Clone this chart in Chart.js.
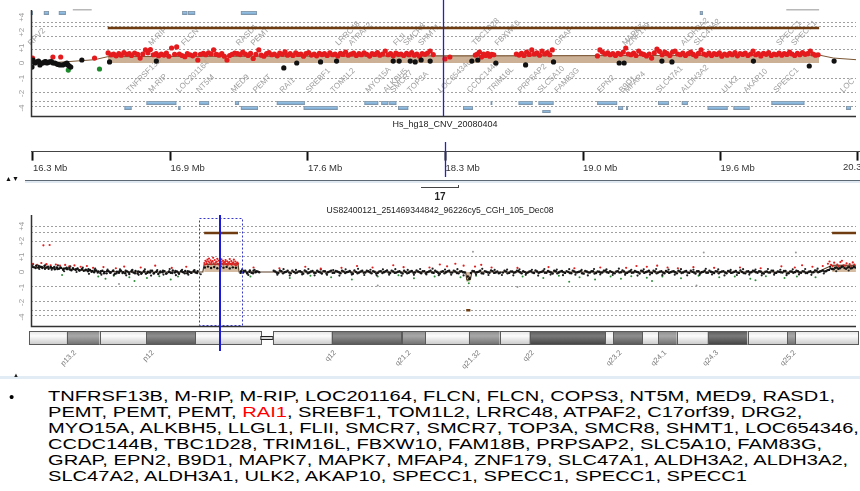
<!DOCTYPE html>
<html><head><meta charset="utf-8">
<script src="https://cdn.jsdelivr.net/npm/chart.js@4.4.1/dist/chart.umd.min.js"></script>
<style>
html,body{margin:0;padding:0;background:#fff;width:860px;height:491px;overflow:hidden;position:relative;font-family:"Liberation Sans",Arial,sans-serif;}
canvas{position:absolute;left:0;}
.t{position:absolute;white-space:nowrap;color:#222;}
</style></head><body>
<canvas id="cTop" width="860" height="135" style="top:0"></canvas>
<canvas id="cRuler" width="900" height="90" style="top:100px"></canvas>
<canvas id="cBot" width="860" height="175" style="top:205px"></canvas>
<div class="t" id="title1" style="left:445px;top:119px;font-size:9px;transform:translateX(-50%);">Hs_hg18_CNV_20080404</div>
<div id="sep1" style="position:absolute;left:25px;top:180px;width:835px;height:1px;background:#5d6875;"></div>
<div id="sep1b" style="position:absolute;left:25px;top:181px;width:835px;height:2px;background:#dfe8f1;"></div>
<div class="t" style="left:5px;top:175px;font-size:7px;color:#111;">▲▼</div>
<div id="brk" style="position:absolute;left:421px;top:185px;width:37px;height:2px;border-bottom:1px solid #444;border-right:1px solid #444;"></div>
<div class="t" style="left:440px;top:191px;font-size:10px;font-weight:bold;transform:translateX(-50%);">17</div>
<div class="t" id="title2" style="left:440px;top:205px;font-size:8.6px;transform:translateX(-50%);">US82400121_251469344842_96226cy5_CGH_105_Dec08</div>
<div id="sep2" style="position:absolute;left:0;top:376px;width:860px;height:3px;background:#e2ecf5;"></div>
<div class="t" style="left:13px;top:372px;font-size:6px;color:#222;">▲</div>
<div class="t" style="left:9px;top:388px;font-size:15px;color:#000;">•</div>
<div class="t" id="genes" style="left:48px;top:388px;font-size:15px;line-height:16px;color:#000;transform-origin:0 0;"></div>
<script>
// ---------------- DATA ----------------
const yTickPos = [3.05, 2.05, 1.0, 0, -1.03, -2.03, -3.0];
const yTickLabels = ['+4', '+2', '+1', '0', '-1', '-2', '-4'];
const topGridLevels = [2.73, 2.47, 1.8, 0.93, -1.0, -1.93, -2.53, -2.87];
const botGridLevels = [3.07, 2.67, 2.07, 1.07, -0.93, -1.93, -2.53, -2.87];

const rulerTicks = [16.3, 16.967, 17.633, 18.3, 18.967, 19.633, 20.3];
const rulerLabels = ['16.3 Mb', '16.9 Mb', '17.6 Mb', '18.3 Mb', '19.0 Mb', '19.6 Mb', '20.3 Mb'];
const cursorMb = 18.3;
const chrHighlight = [16.25, 20.38];

// top panel (zoomed region), x in Mb, y log ratio position
const topRed = [[16.298,.33],[16.397,.4],[16.435,.4],[16.6,.33],
[16.666,.67],[16.68,.55],[16.693,.6],[16.705,.48],[16.718,.63],[16.73,.52],[16.743,.7],[16.756,.58],[16.769,.62],[16.78,.5],[16.795,.66],[16.81,.57],[16.822,.33],[16.835,.6],[16.848,.87],[16.86,.68],[16.872,.9],[16.886,.55],[16.9,.62],[16.912,.49],[16.925,.6],[16.938,.53],[16.95,.66],[16.962,.45],[16.975,1.0],[16.99,.58],[17.0,1.07],[17.013,.6],[17.026,.5],[17.04,.42],[17.052,.62],[17.065,.55],[17.078,.48],[17.09,.6],[17.103,.2],[17.116,.58],[17.13,.64],[17.142,.55],[17.155,.68],[17.168,.6],[17.18,.87],[17.193,.57],[17.206,.52],[17.22,.63],[17.232,.45],[17.245,.2],[17.258,.5],[17.27,.58],[17.283,.66],[17.296,.62],[17.31,.56],[17.322,.73],[17.335,.6],[17.348,.5],[17.36,.64],[17.373,.3],[17.386,.57],[17.4,.87],[17.412,.52],[17.425,.45],
[17.438,.62],[17.45,.7],[17.463,.55],[17.476,.6],[17.49,.48],[17.502,.66],[17.515,.58],[17.528,.75],[17.54,.52],[17.553,.63],[17.566,.5],[17.58,.68],[17.592,.57],[17.605,.6],[17.618,.45],[17.63,.62],[17.643,.7],[17.656,.53],[17.67,.6],[17.682,.48],[17.695,.65],[17.708,.56],[17.72,.62],[17.733,.5],[17.746,.67],[17.76,.55],[17.772,.6],[17.785,.47],[17.798,.64],[17.81,.57],[17.823,.73],[17.836,.52],[17.85,.6],[17.862,.66],[17.875,.5],[17.888,.62],[17.9,.55],[17.913,.68],[17.926,.58],[17.94,.46],[17.952,.63],[17.965,.57],[17.978,.7],[17.99,.52],[18.003,.6],[18.016,.8],[18.03,.55],[18.042,.62],[18.055,.48],[18.068,.66],[18.08,.58],[18.093,.6],[18.106,.5],[18.12,.64],[18.132,.55],[18.145,.7],[18.158,.52],[18.17,.6],[18.183,.45],[18.196,.62],[18.21,.58],[18.222,.66],[18.235,.8],[18.25,.56],
[18.307,.27],[18.331,.4],
[18.455,.53],[18.465,.6],[18.475,.73],[18.485,.4],[18.495,.6],[18.505,.5],[18.515,.62],[18.525,.45],[18.535,.58],[18.545,.55],
[18.655,.6],[18.668,.53],[18.68,.64],[18.692,.5],[18.705,.73],[18.718,.57],[18.73,.87],[18.742,.6],[18.755,.67],[18.768,.52],[18.78,.8],[18.793,.6],[18.806,.7],[18.818,.55],[18.83,.87],
[19.05,.47],[19.062,.87],[19.074,.73],[19.087,.6],[19.1,.67],[19.112,.55],[19.125,.62],[19.138,.5],[19.15,.64],[19.163,.58],[19.176,.73],[19.188,1.0],[19.2,.6],[19.213,.55],[19.226,.66],[19.238,.5],[19.251,.8],[19.264,.62],[19.276,.57],[19.289,.47],[19.302,.6],[19.314,.33],[19.327,.67],[19.34,.93],[19.352,.78],[19.365,.55],[19.378,.73],[19.39,.62],[19.403,.5],[19.416,.73],[19.428,.8],[19.441,.6],[19.454,.55],[19.466,.66],[19.479,.5],[19.492,.62],[19.504,.72],[19.517,.57],[19.53,.46],[19.542,.64],[19.555,.88],[19.568,.6],[19.58,.53],[19.593,.66],[19.606,.5],[19.618,.62],[19.631,.57],[19.644,.68],[19.656,.45],[19.669,.6],[19.682,.52],[19.694,.64],[19.707,.55],[19.72,.7],[19.732,.48],[19.745,.62],[19.758,.57],[19.77,.66],[19.783,.5],[19.796,.6],[19.808,.8],[19.821,.55],[19.834,.62],[19.846,.47],[19.859,.64],[19.872,.58],[19.884,.7],[19.897,.5],[19.91,.6],[19.922,.55],[19.935,.66],[19.948,.52],[19.96,.62],[19.973,.57],[19.986,.73],[19.998,.6],[20.011,.5],[20.024,.64],[20.036,.55],[20.049,.7],[20.062,.58],[20.074,.62],[20.087,.8],[20.1,.6],[20.112,.52],[20.125,.55]];
const topBlack = [[16.295,-.27],[16.296,.07],[16.3,.2],[16.31,.0],[16.319,.07],[16.327,.13],[16.334,-.13],[16.341,.0],[16.348,0],[16.356,.07],[16.362,.1],[16.368,0],[16.375,.05],[16.382,.07],[16.39,.1],[16.398,.0],[16.407,0],[16.417,-.07],[16.424,-.1],[16.431,-.13],[16.445,-.13],[16.455,-.07],[16.465,0],[16.47,-.13],[16.477,-.2],[16.484,-.27],[16.538,.2],[16.673,.07],[16.901,.13],[17.522,-.33],[17.585,0],[17.701,.07],[17.779,.13],[18.055,.13],[18.084,.13],[18.138,.13],[18.162,.07],[18.191,.2],[18.235,.13],[18.438,.13],[18.467,.2],[18.555,0],[18.7,-.13],[18.836,.07],[19.156,0],[19.18,0],[19.364,.13],[19.413,.07],[19.81,.13],[20.082,-.2],[20.203,.13]];
const topGreen = [[16.472,-.47],[16.624,-.4]];
const topSegment = [[16.664,.42],[17.2,.45],[17.9,.47],[18.6,.48],[19.3,.5],[20.13,.53]];
const topTrend = [[16.35,.0],[16.45,.07],[16.6,.22],[16.664,.42],[17.2,.45],[17.9,.47],[18.6,.48],[19.3,.5],[20.13,.53],[20.2,.33],[20.31,.22]];
const topBar = [[16.664,2.33],[20.13,2.33]];

// gene tracks in top panel: [startMb, endMb, row]
const geneBoxes = [[16.29,16.3,0],[16.353,16.378,0],[16.426,16.46,0],[17.027,17.052,0],[17.056,17.09,0],[17.313,17.391,0],[19.549,19.564,0],
[16.853,16.998,1],[17.11,17.158,1],[17.284,17.304,1],[17.488,17.624,1],[17.915,17.982,1],[17.997,18.031,1],[18.036,18.07,1],[18.53,18.535,1],[18.666,18.734,1],[18.763,18.836,1],[19.049,19.146,1],[19.345,19.398,1],[19.461,19.49,1],[19.898,20.058,1],
[16.746,16.78,2],[17.008,17.018,2],[17.313,17.396,2],[17.619,17.784,2],[18.079,18.128,2],[18.395,18.443,2],[19.151,19.175,2],[19.19,19.199,2],[19.587,19.684,2],[19.713,19.791,2],[20.261,20.285,2],
[18.782,18.821,3]];
const geneLines = [[16.494,16.586],[19.97,20.13]];
const genesAbove = [['RPV2',16.29],['M-RIP',16.877],['FLCN',17.037],['RASD1',17.304],['PEMT',17.376],['LRRC48',17.788],['ATPAF2',17.852],['FLII',18.07],['SMCR8',18.118],['SHMT1',18.191],['TBC1D28',18.453],['FBXW10',18.564],['GRAP',18.855],['MAPK7',19.185],['ZNF179',19.209],['ALDH3A2',19.471],['SLC47A2',19.534],['SPECC1',19.936],['SPECC1',20.009]];
const genesBelow = [['TNFRSF13B',16.77],['M-RIP',16.877],['LOC201164',17.013],['NT5M',17.11],['MED9',17.279],['PEMT',17.386],['RAI1',17.517],['SREBF1',17.643],['TOM1L2',17.764],['MYO15A',17.934],['ALKBH5',18.021],['SMCR7',18.055],['TOP3A',18.138],['LOC654346',18.288],['CCDC144B',18.429],['TRIM16L',18.53],['PRPSAP2',18.676],['SLC5A10',18.773],['FAM83G',18.855],['EPN2',19.064],['B9D1',19.17],['MFAP4',19.195],['SLC47A1',19.35],['ALDH3A2',19.471],['ULK2',19.67],['AKAP10',19.776],['SPECC1',19.922],['LOC',20.247]];

// bottom panel (whole chromosome 17)
const botBlack = [[0.1,.38],[0.3,.31],[0.5,.42],[0.7,.29],[0.9,.35],[1.1,.27],[1.3,.4],[1.5,.3],[1.7,.22],[1.9,.33],[2.1,.26],[2.3,.18],[2.5,.3],[2.7,.21],[2.9,.27],[3.1,.15],[3.3,.24],[3.5,.19],[3.7,.28],[3.9,.12],[4.1,.2],[4.3,.14],[4.5,.23],[4.7,.1],[4.9,.17],[5.1,.08],[5.3,.16],[5.5,.05],[5.7,.13],[5.9,.07],[6.1,-.02],[6.3,.1],[6.5,.04],[6.7,-.06],[6.9,.08],[7.1,.01],[7.3,-.09],[7.5,.05],[7.7,-.03],[7.9,.06],[8.1,-.12],[8.3,.02],[8.5,-.05],[8.7,.09],[8.9,-.01],[9.1,-.08],[9.3,.04],[9.5,-.14],[9.7,.03],[9.9,-.04],[10.1,.07],[10.3,-.1],[10.5,.0],[10.7,-.06],[10.9,.05],[11.1,-.11],[11.3,.02],[11.5,-.03],[11.7,.08],[11.9,-.07],[12.1,.01],[12.3,-.13],[12.5,.04],[12.7,-.02],[12.9,.06],[13.1,-.09],[13.3,.0],[13.5,-.05],[13.7,.1],[13.9,-.04],[14.1,.03],[14.3,-.12],[14.5,.05],[14.7,-.01],[14.9,.07],[15.1,-.08],[15.3,.02],[15.5,-.06],[15.7,.04],[15.9,-.03],[16.1,.06],
[16.8,.3],[17.1,.36],[17.4,.27],[17.7,.33],[18.0,.25],[18.3,.38],[18.6,.29],[18.9,.34],[19.2,.24],[19.5,.31],[19.8,.28],
[20.3,.05],[20.5,-.04],[20.7,.08],[20.9,-.1],[21.1,.02],[21.3,-.05],[21.5,.09],[21.7,-.02],[21.9,.04],
[23.6,.03],[23.9,-.07],[24.2,.05],[24.5,-.02],[24.8,.08],[25.1,-.09],[25.4,.01],[25.7,-.04],[26.0,.06],[26.3,-.11],[26.6,.03],[26.9,-.03],[27.2,.07],[27.5,-.06],[27.8,.02],[28.1,-.1],[28.4,.05],[28.7,-.01],[29.0,.09],[29.3,-.05],[29.6,.03],[29.9,-.08],[30.2,.04],[30.5,-.02],[30.8,.07],[31.1,-.12],[31.4,.01],[31.7,-.04],[32.0,.08],[32.3,-.03],[32.6,.05],[32.9,-.09],[33.2,.02],[33.5,-.06],[33.8,.06],[34.1,-.02],[34.4,.1],[34.7,-.07],[35.0,.03],[35.3,-.04],[35.6,.05],[35.9,-.1],[36.2,.0],[36.5,-.05],[36.8,.07],[37.1,-.03],[37.4,.04],[37.7,-.08],[38.0,.06],[38.3,-.01],[38.6,.09],[38.9,-.06],[39.2,.02],[39.5,-.11],[39.8,.05],[40.1,-.02],[40.4,.08],[40.7,-.04],[41.0,.03],[41.3,-.09],[41.6,.06],[41.9,-.03],[42.2,-.3],[42.35,-.45],[42.5,-.07],[42.8,.05],[43.1,-.02],[43.4,.08],[43.7,-.1],[44.0,.02],[44.3,-.05],[44.6,.06],[44.9,-.03],[45.2,-.08],[45.6,-.04],[45.9,.04],[46.2,-.06],[46.5,.03],[46.8,-.02],[47.1,.07],[47.4,-.09],[47.7,.01],[48.0,-.04],[48.3,.06],[48.6,-.07],[48.9,.03],[49.2,-.01],[49.5,.08],[49.8,-.05],[50.1,.02],[50.4,-.1],[50.7,.05],[51.0,-.03],[51.3,.07],[51.6,-.06],[51.9,.01],[52.2,-.08],[52.5,.04],[52.8,-.02],[53.1,.06],[53.4,-.11],[53.7,.03],[54.0,-.04],[54.3,.05],[54.6,-.07],[54.9,.02],[55.2,-.03],[55.5,.09],[55.8,-.05],[56.1,.01],[56.4,-.09],[56.7,.06],[57.0,-.02],[57.3,.04],[57.6,-.06],[57.9,.07],[58.2,-.03],[58.5,.02],[58.8,-.1],[59.1,.05],[59.4,-.01],[59.7,.08],[60.0,-.07],[60.3,.03],[60.6,-.04],[60.9,.06],[61.2,-.08],[61.5,.02],[61.8,-.02],[62.1,.05],[62.4,-.09],[62.7,.04],[63.0,-.03],[63.3,.07],[63.6,-.06],[63.9,.01],[64.2,-.1],[64.5,.05],[64.8,-.02],[65.1,.08],[65.4,-.05],[65.7,.02],[66.0,-.07],[66.3,.04],[66.6,-.01],[66.9,.06],[67.2,-.08],[67.5,.03],[67.8,-.04],[68.1,.07],[68.4,-.06],[68.7,.01],[69.0,-.09],[69.3,.05],[69.6,-.02],[69.9,.06],[70.2,-.05],[70.5,.03],[70.8,-.1],[71.1,.04],[71.4,-.03],[71.7,.08],[72.0,-.06],[72.3,.02],[72.6,-.04],[72.9,.07],[73.2,-.08],[73.5,.03],[73.8,-.01],[74.1,.06],[74.4,-.05],[74.7,.04],[75.0,-.07],[75.3,.05],[75.6,-.02],[75.9,.09],[76.2,.02],[76.5,.1],[76.8,.05],[77.1,.14],[77.4,.2],[77.7,.28],[78.0,.22],[78.3,.33],[78.6,.26],[78.9,.3],[79.2,.24],[79.5,.35]];
const botBlack2 = [[0.2,.5],[0.8,.2],[1.4,.48],[2.0,.15],[2.6,.44],[3.2,.05],[3.8,.37],[4.4,.0],[5.0,.3],[5.6,-.12],[6.2,.22],[6.8,-.18],[7.4,.16],[8.0,-.2],[8.6,.18],[9.2,-.22],[9.8,.14],[10.4,-.19],[11.0,.17],[11.6,-.24],[12.2,.13],[12.8,-.17],[13.4,.2],[14.0,-.21],[14.6,.15],[15.2,-.18],[15.8,.12],[16.4,-.15],[20.4,.17],[21.0,-.2],[21.6,.15],[23.8,-.18],[24.4,.19],[25.0,-.23],[25.6,.14],[26.2,-.16],[26.8,.2],[27.4,-.22],[28.0,.16],[28.6,-.19],[29.2,.13],[29.8,-.24],[30.4,.18],[31.0,-.17],[31.6,.21],[32.2,-.2],[32.8,.15],[33.4,-.22],[34.0,.17],[34.6,-.18],[35.2,.19],[35.8,-.25],[36.4,.14],[37.0,-.19],[37.6,.2],[38.2,-.16],[38.8,.22],[39.4,-.21],[40.0,.16],[40.6,-.18],[41.2,.19],[41.8,-.23],[42.4,-.38],[43.0,-.17],[43.6,.21],[44.2,-.2],[44.8,.14],[45.5,-.2],[46.0,.16],[46.6,-.22],[47.2,.18],[47.8,-.19],[48.4,.15],[49.0,-.24],[49.6,.2],[50.2,-.17],[50.8,.16],[51.4,-.21],[52.0,.19],[52.6,-.18],[53.2,.14],[53.8,-.23],[54.4,.2],[55.0,-.16],[55.6,.17],[56.2,-.2],[56.8,.22],[57.4,-.19],[58.0,.15],[58.6,-.24],[59.2,.18],[59.8,-.17],[60.4,.2],[61.0,-.21],[61.6,.16],[62.2,-.18],[62.8,.19],[63.4,-.22],[64.0,.15],[64.6,-.19],[65.2,.21],[65.8,-.16],[66.4,.17],[67.0,-.23],[67.6,.14],[68.2,-.2],[68.8,.19],[69.4,-.17],[70.0,.16],[70.6,-.22],[71.2,.2],[71.8,-.18],[72.4,.15],[73.0,-.21],[73.6,.18],[74.2,-.16],[74.8,.2],[75.4,-.19],[76.0,.22],[76.6,-.1],[77.2,.35],[77.8,.05],[78.4,.4],[79.0,.1]];
const botBlack3 = [[0.15,.34],[0.45,.26],[0.75,.4],[1.05,.33],[1.35,.22],[1.65,.36],[1.95,.28],[2.25,.34],[2.55,.2],[2.85,.31],[3.15,.22],[3.45,.29],[3.75,.17],[4.05,.26],[4.35,.19],[4.65,.12],[4.95,.21],[5.25,.11],[5.55,.18],[5.85,.02],[6.15,.12],[6.45,-.04],[6.75,.06],[7.05,-.08],[7.35,.07],[7.65,-.05],[7.95,.1],[8.25,-.09],[8.55,.05],[8.85,-.07],[9.15,.08],[9.45,-.03],[9.75,.1],[10.05,-.08],[10.35,.04],[10.65,-.12],[10.95,.03],[11.25,-.06],[11.55,.09],[11.85,-.1],[12.15,.06],[12.45,-.04],[12.75,.08],[13.05,-.11],[13.35,.03],[13.65,-.07],[13.95,.07],[14.25,-.05],[14.55,.09],[14.85,-.09],[15.15,.05],[15.45,-.03],[15.75,.08],[16.05,-.07],
[20.25,-.06],[20.55,.07],[20.85,-.03],[21.15,.1],[21.45,-.08],[21.75,.05],[22.05,-.02],[23.45,.08],[23.75,-.05],[24.05,.1],[24.35,-.09],[24.65,.02],[24.95,-.04],[25.25,.09],[25.55,-.07],[25.85,.04],[26.15,-.02],[26.45,.1],[26.75,-.08],[27.05,.03],[27.35,-.05],[27.65,.08],[27.95,-.03],[28.25,.06],[28.55,-.1],[28.85,.04],[29.15,-.06],[29.45,.07],[29.75,-.02],[30.05,.09],[30.35,-.07],[30.65,.02],[30.95,-.04],[31.25,.1],[31.55,-.08],[31.85,.03],[32.15,-.05],[32.45,.08],[32.75,-.02],[33.05,.06],[33.35,-.1],[33.65,.04],[33.95,-.07],[34.25,.05],[34.55,-.03],[34.85,.09],[35.15,-.06],[35.45,.02],[35.75,-.04],[36.05,.08],[36.35,-.09],[36.65,.03],[36.95,-.05],[37.25,.1],[37.55,-.02],[37.85,.05],[38.15,-.08],[38.45,.04],[38.75,-.03],[39.05,.08],[39.35,-.06],[39.65,.02],[39.95,-.09],[40.25,.06],[40.55,-.04],[40.85,.09],[41.15,-.07],[41.45,.03],[41.75,-.02],[42.65,.07],[42.95,-.05],[43.25,.02],[43.55,-.08],[43.85,.06],[44.15,-.03],[44.45,.1],[44.75,-.06],[45.05,.03],[45.35,-.04],[45.75,.08],[46.05,-.09],[46.35,.04],[46.65,-.05],[46.95,.09],[47.25,-.02],[47.55,.05],[47.85,-.08],[48.15,.03],[48.45,-.04],[48.75,.1],[49.05,-.07],[49.35,.02],[49.65,-.05],[49.95,.07],[50.25,-.03],[50.55,.08],[50.85,-.09],[51.15,.04],[51.45,-.02],[51.75,.06],[52.05,-.07],[52.35,.09],[52.65,-.04],[52.95,.02],[53.25,-.08],[53.55,.07],[53.85,-.03],[54.15,.05],[54.45,-.1],[54.75,.04],[55.05,-.05],[55.35,.08],[55.65,-.02],[55.95,.06],[56.25,-.07],[56.55,.03],[56.85,-.04],[57.15,.1],[57.45,-.08],[57.75,.02],[58.05,-.05],[58.35,.07],[58.65,-.02],[58.95,.09],[59.25,-.06],[59.55,.03],[59.85,-.04],[60.15,.08],[60.45,-.09],[60.75,.02],[61.05,-.03],[61.35,.07],[61.65,-.06],[61.95,.04],[62.25,-.02],[62.55,.09],[62.85,-.07],[63.15,.03],[63.45,-.04],[63.75,.08],[64.05,-.03],[64.35,.05],[64.65,-.08],[64.95,.02],[65.25,-.05],[65.55,.09],[65.85,-.02],[66.15,.06],[66.45,-.09],[66.75,.04],[67.05,-.03],[67.35,.07],[67.65,-.06],[67.95,.02],[68.25,-.04],[68.55,.1],[68.85,-.07],[69.15,.03],[69.45,-.05],[69.75,.08],[70.05,-.02],[70.35,.05],[70.65,-.08],[70.95,.02],[71.25,-.04],[71.55,.09],[71.85,-.06],[72.15,.03],[72.45,-.02],[72.75,.07],[73.05,-.09],[73.35,.04],[73.65,-.05],[73.95,.08],[74.25,-.03],[74.55,.06],[74.85,-.07],[75.15,.02],[75.45,-.04],[75.75,.1],[76.05,-.02],[76.35,.06],[76.65,.03],[76.95,.12],[77.25,.24],[77.55,.18],[77.85,.3],[78.15,.25],[78.45,.36],[78.75,.22],[79.05,.34],[79.35,.27],[79.65,.3]];
const botRed = [[0.2,.55],[0.6,.48],[1.0,.6],[1.5,.52],[1.9,.45],[2.4,.5],[2.8,.42],[3.3,.47],[3.7,.38],[4.2,.44],[4.8,.35],[5.4,.4],[6.0,.28],[7.0,.33],[8.2,.25],[9.0,.36],[1.2,1.78],[1.8,1.8],[10.6,.3],[12.0,.42],[13.6,.27],[15.0,.35],
[16.75,.6],[16.85,.75],[16.95,.68],[17.05,.82],[17.15,.7],[17.25,.62],[17.35,.78],[17.45,.66],[17.55,.72],[17.65,.58],[17.75,.8],[17.85,.64],[17.95,.7],[18.05,.55],[18.15,.76],[18.25,.63],[18.35,.69],[18.45,.57],[18.55,.74],[18.65,.61],[18.75,.67],[18.85,.52],[18.95,.71],[19.05,.6],[19.15,.66],[19.25,.54],[19.35,.73],[19.45,.59],[19.55,.65],[19.65,.5],[19.75,.7],[19.85,.58],[19.95,.62],
[16.8,.5],[17.0,.55],[17.2,.9],[17.4,.52],[17.6,.95],[17.8,.5],[18.0,.88],[18.2,.48],[18.4,.85],[18.6,.5],[18.8,.8],[19.0,.47],[19.2,.86],[19.4,.49],[19.6,.82],[19.8,.45],[20.0,.55],
[21.5,.3],[24.0,.25],[26.5,.35],[28.0,.22],[30.0,.28],[31.5,.4],[33.0,.3],[35.0,.45],[36.0,.32],[38.5,.3],[39.5,.5],[40.2,.38],[41.0,.55],[41.8,.42],[42.9,.36],[43.5,.48],[44.5,.3],[47.0,.27],[50.0,.33],[52.5,.25],[55.0,.3],[57.5,.28],[58.5,.4],[59.5,.35],[60.5,.42],[61.5,.3],[62.5,.25],[64.0,.32],[66.0,.28],[68.5,.3],[70.5,.25],[72.5,.38],[73.8,.3],[74.5,.45],[75.5,.35],[76.5,.4],
[77.0,.55],[77.3,.48],[77.6,.62],[77.9,.5],[78.2,.66],[78.5,.45],[78.8,.58],[79.1,.52],[79.4,.64],[77.45,.4],[78.05,.38],[78.65,.42],[79.25,.36],[77.15,.7],[78.35,.75],[79.55,.5]];
const botGreen = [[3.0,-.2],[6.5,-.3],[7.2,-.45],[8.0,-.25],[9.5,-.35],[11.2,-.4],[12.4,-.28],[13.5,-.5],[14.2,-.3],[21.2,-.3],[25.0,-.4],[27.0,-.25],[29.0,-.35],[31.0,-.5],[33.5,-.3],[35.5,-.22],[37.0,-.42],[39.0,-.3],[41.5,-.35],[42.2,-.55],[42.3,-.75],[43.0,-.25],[47.5,-.3],[49.5,-.4],[51.0,-.25],[53.0,-.35],[54.5,-.5],[56.0,-.3],[57.0,-.45],[58.0,-.28],[59.5,-.38],[61.0,-.3],[62.8,-.42],[64.5,-.25],[66.5,-.35],[68.0,-.3],[69.5,-.45],[71.0,-.28],[72.8,-.4],[74.0,-.3],[75.8,-.35],[10.0,-.6],[52.0,-.65],[60.0,-.6],[70.0,-.55]];
const botGray = [[42.7,1.35],[65.0,1.3],[73.9,1.3],[33.5,-.9],[47.0,-1.0],[8.5,-.8],[64.3,-.9]];
const botSegments = [[[16.73,.55],[20.0,.55]],[[42.05,-.6],[42.45,-.6]],[[77.4,.45],[79.7,.45]]];
const botTrend = [[0,.33],[3,.25],[6,.05],[10,0],[16.6,0],[16.73,.5],[20.0,.55],[20.1,0],[42.0,0],[42.1,-.5],[42.45,-.5],[42.6,0],[76,0],[77.4,.45],[79.7,.45]];
const botBars = [[[16.73,2.6],[20.0,2.6]],[[77.4,2.6],[79.8,2.6]],[[42.05,-2.55],[42.45,-2.55]]];

// ideogram bands: [start, end, stain]
const ideogramBands = [[-0.2,3.46,'gneg'],[3.46,6.63,'gpos50'],[6.63,11.15,'gneg'],[11.15,15.87,'gpos75'],[15.87,22.21,'gneg'],[22.21,23.37,'acen'],[23.37,29.04,'gneg'],[29.04,35.77,'gpos75'],[35.77,35.87,'gneg'],[35.87,38.08,'gpos50'],[38.08,42.31,'gneg'],[42.31,45.29,'gpos50'],[45.29,48.17,'gneg'],[48.17,55.48,'gpos100'],[55.48,56.25,'gneg'],[56.25,59.04,'gpos75'],[59.04,60.58,'gneg'],[60.58,62.40,'gpos50'],[62.40,65.38,'gneg'],[65.38,69.23,'gpos100'],[69.23,73.08,'gneg'],[73.08,73.85,'gpos50'],[73.85,79.9,'gneg']];
const bandLabels = [['p13.2',4.42],['p12',11.92],['q12',29.52],['q21.2',36.73],['q21.32',43.46],['q22',48.65],['q23.2',57.12],['q24.1',61.44],['q24.3',66.44],['q25.2',73.94]];

const geneListLines = [
 'TNFRSF13B, M-RIP, M-RIP, LOC201164, FLCN, FLCN, COPS3, NT5M, MED9, RASD1,',
 'PEMT, PEMT, PEMT, <span style="color:#f00">RAI1</span>, SREBF1, TOM1L2, LRRC48, ATPAF2, C17orf39, DRG2,',
 'MYO15A, ALKBH5, LLGL1, FLII, SMCR7, SMCR7, TOP3A, SMCR8, SHMT1, LOC654346,',
 'CCDC144B, TBC1D28, TRIM16L, FBXW10, FAM18B, PRPSAP2, SLC5A10, FAM83G,',
 'GRAP, EPN2, B9D1, MAPK7, MAPK7, MFAP4, ZNF179, SLC47A1, ALDH3A2, ALDH3A2,',
 'SLC47A2, ALDH3A1, ULK2, AKAP10, SPECC1, SPECC1, SPECC1, SPECC1'];

// ---------------- RENDER ----------------
const genesDiv = document.getElementById('genes');
genesDiv.innerHTML = geneListLines.map((l,i)=>'<span id="gl'+i+'">'+l+'</span>').join('<br>');
const w1 = document.getElementById('gl0').getBoundingClientRect().width;
genesDiv.style.transform = 'scaleX(' + (787 / w1) + ')';

const P = a => a.map(p => ({x: p[0], y: p[1]}));
const FONT = '"Liberation Sans", Arial, sans-serif';

const panelDecor = {
  id: 'panelDecor',
  beforeDatasetsDraw(chart, args, o) {
    const {ctx, chartArea: a, scales: {x, y}} = chart;
    ctx.save();
    ctx.strokeStyle = '#a0a0a0'; ctx.lineWidth = 1; ctx.setLineDash([2, 2]);
    o.grid.forEach(v => { const py = Math.round(y.getPixelForValue(v)) + 0.5; ctx.beginPath(); ctx.moveTo(a.left, py); ctx.lineTo(a.right, py); ctx.stroke(); });
    ctx.setLineDash([]);
    ctx.fillStyle = '#9a9a9a'; ctx.font = '8px ' + FONT; ctx.textAlign = 'center'; ctx.textBaseline = 'middle';
    yTickPos.forEach((v, i) => { ctx.save(); ctx.translate(a.left - 9, y.getPixelForValue(v)); ctx.rotate(-Math.PI / 2); ctx.fillText(yTickLabels[i], 0, 0); ctx.restore(); });
    if (o.genes) {
      const rows = [[a.top + 1, 4], [a.bottom - 15, 4], [a.bottom - 10, 4], [a.bottom - 6, 3]];
      geneLines.forEach(g => { ctx.fillStyle = '#b8b8b8'; const x0 = x.getPixelForValue(g[0]), x1 = x.getPixelForValue(g[1]); ctx.fillRect(x0, a.top - 1, x1 - x0, 1.5); });
      geneBoxes.forEach(g => {
        const x0 = x.getPixelForValue(g[0]), x1 = x.getPixelForValue(g[1]); const r = rows[g[2]];
        const gr = ctx.createLinearGradient(0, r[0], 0, r[0] + r[1]);
        gr.addColorStop(0, '#a8d0f0'); gr.addColorStop(1, '#6f9fc8');
        ctx.fillStyle = gr; ctx.fillRect(x0, r[0], Math.max(1.5, x1 - x0), r[1]);
        ctx.strokeStyle = '#8494a4'; ctx.lineWidth = 0.8; ctx.strokeRect(x0 + 0.4, r[0] + 0.4, Math.max(1.5, x1 - x0) - 0.8, r[1] - 0.8);
      });
      ctx.fillStyle = '#a0a0a0'; ctx.font = '8px ' + FONT; ctx.textAlign = 'left'; ctx.textBaseline = 'alphabetic';
      genesAbove.forEach(g => { ctx.save(); ctx.translate(x.getPixelForValue(g[1]), a.top + 36); ctx.rotate(-Math.PI / 4); ctx.fillText(g[0], 0, 0); ctx.restore(); });
      genesBelow.forEach(g => { ctx.save(); ctx.translate(x.getPixelForValue(g[1]), a.top + 83); ctx.rotate(-Math.PI / 4); ctx.fillText(g[0], 0, 0); ctx.restore(); });
    }
    ctx.restore();
  },
  afterDatasetsDraw(chart, args, o) {
    const {ctx, chartArea: a, scales: {x, y}} = chart;
    ctx.save();
    ctx.strokeStyle = '#333'; ctx.lineWidth = 1.5;
    ctx.beginPath(); ctx.moveTo(a.left + 0.5, a.top); ctx.lineTo(a.left + 0.5, a.bottom + 0.5); ctx.lineTo(a.right, a.bottom + 0.5); ctx.stroke();
    if (o.cursor) {
      ctx.strokeStyle = '#2222cc'; ctx.lineWidth = 1.3;
      const px = Math.round(x.getPixelForValue(cursorMb)) + 0.5;
      ctx.beginPath(); ctx.moveTo(px, 0); ctx.lineTo(px, a.bottom); ctx.stroke();
    }
    if (o.ideogram) {
      const top = a.bottom + 5, h = 14;
      const cols = {gneg: ['#fbfbfb', '#e4e4e4', '#c8c8c8'], gpos50: ['#a8a8a8', '#8c8c8c', '#6e6e6e'], gpos75: ['#8e8e8e', '#707070', '#555'], gpos100: ['#7a7a7a', '#5a5a5a', '#404040']};
      ideogramBands.forEach(b => {
        const x0 = x.getPixelForValue(b[0]), x1 = x.getPixelForValue(b[1]);
        if (b[2] === 'acen') {
          ctx.fillStyle = '#d8d8d8'; ctx.fillRect(x0, top + 5, x1 - x0, 4);
          ctx.strokeStyle = '#222'; ctx.lineWidth = 1; ctx.strokeRect(x0, top + 5.5, x1 - x0, 3);
          return;
        }
        const c = cols[b[2]]; const gr = ctx.createLinearGradient(0, top, 0, top + h);
        gr.addColorStop(0, c[1]); gr.addColorStop(0.35, c[0]); gr.addColorStop(1, c[2]);
        ctx.fillStyle = gr; ctx.fillRect(x0, top, x1 - x0, h);
        ctx.strokeStyle = '#5a5a5a'; ctx.lineWidth = 1; ctx.strokeRect(Math.round(x0) + 0.5, top + 0.5, Math.round(x1) - Math.round(x0), h - 1);
      });
      ctx.fillStyle = '#7a7a7a'; ctx.font = '7.5px ' + FONT; ctx.textAlign = 'right'; ctx.textBaseline = 'alphabetic';
      bandLabels.forEach(l => { ctx.save(); ctx.translate(x.getPixelForValue(l[1]), a.bottom + 27); ctx.rotate(-Math.PI / 4); ctx.fillText(l[0], 0, 0); ctx.restore(); });
      // highlight box
      ctx.strokeStyle = '#3838c8'; ctx.lineWidth = 1; ctx.setLineDash([2, 2]);
      const hx0 = Math.round(x.getPixelForValue(chrHighlight[0])) + 0.5, hx1 = Math.round(x.getPixelForValue(chrHighlight[1])) + 0.5;
      ctx.strokeRect(hx0, a.top + 3.5, hx1 - hx0, a.bottom - a.top - 4);
      ctx.setLineDash([]);
      ctx.strokeStyle = '#1a1ad8'; ctx.lineWidth = 2;
      const cx = Math.round(x.getPixelForValue(cursorMb));
      ctx.beginPath(); ctx.moveTo(cx, a.top); ctx.lineTo(cx, a.bottom + 25); ctx.stroke();
    }
    ctx.restore();
  }
};

function lineDs(data, color, width, order, fill, bg) {
  return {data: P(data), showLine: true, borderColor: color, borderWidth: width, pointRadius: 0, fill: fill || false, backgroundColor: bg || color, order: order, tension: 0};
}
function ptDs(data, color, r, order) {
  return {data: P(data), showLine: false, pointRadius: r, pointBackgroundColor: color, pointBorderWidth: 0, borderColor: color, order: order};
}
function baseOpts(xmin, xmax, ymin, ymax, pad, decor) {
  return {
    responsive: false, animation: false, events: [],
    layout: {padding: pad},
    plugins: {legend: {display: false}, tooltip: {enabled: false}, panelDecor: decor},
    scales: {x: {type: 'linear', display: false, min: xmin, max: xmax}, y: {display: false, min: ymin, max: ymax}}
  };
}

const xTop = [16.3 - 2 / 206.25, 16.3 + 827 / 206.25];

new Chart(document.getElementById('cTop'), {
  type: 'line',
  data: {datasets: [
    lineDs(topSegment, 'rgba(150,110,80,0.6)', 1, 10, 'origin', 'rgba(198,168,140,0.9)'),
    lineDs(topTrend, '#7a5634', 1, 9),
    lineDs(topBar, '#6e3c10', 2.5, 8),
    ptDs(topGreen, '#1c8a2c', 2.6, 4),
    ptDs(topRed, '#e51a1d', 2.6, 3),
    ptDs(topBlack, '#111111', 2.6, 2)
  ]},
  options: baseOpts(xTop[0], xTop[1], -3.533, 3.533, {left: 31, right: 0, top: 10, bottom: 19}, {grid: topGridLevels, genes: true, cursor: true}),
  plugins: [panelDecor]
});

// ruler canvas: page top 100; axis line at page y 153 (canvas y 53)
const lastIdx = rulerLabels.length - 1;
new Chart(document.getElementById('cRuler'), {
  type: 'line',
  data: {datasets: []},
  options: {
    responsive: false, animation: false, events: [],
    layout: {padding: {left: 31, right: 40, top: 20, bottom: 14}},
    plugins: {legend: {display: false}, tooltip: {enabled: false}},
    scales: {
      x: {type: 'linear', position: 'bottom', min: xTop[0], max: xTop[1],
        afterBuildTicks: s => { s.ticks = rulerTicks.map(v => ({value: v})); },
        afterFit: s => { s.paddingLeft = 0; s.paddingRight = 0; },
        ticks: {autoSkip: false, maxRotation: 0, minRotation: 0, align: 'start', padding: 2, color: '#333', font: {size: 9.5, family: FONT}, callback: (v, i) => i === lastIdx ? '' : rulerLabels[i]},
        grid: {drawOnChartArea: false, drawTicks: true, tickLength: 9, tickWidth: 2, tickColor: '#111', offset: false},
        border: {display: true, color: '#444', width: 1}},
      y: {display: false, min: 0, max: 1}
    }
  },
  plugins: [{id: 'rulerCursor', afterDraw(chart) {
    const {ctx, scales: {x}, chartArea: a} = chart; const px = Math.round(x.getPixelForValue(cursorMb)) + 0.5;
    ctx.save(); ctx.strokeStyle = '#2222cc'; ctx.lineWidth = 1.3; ctx.beginPath(); ctx.moveTo(px, 42); ctx.lineTo(px, 77); ctx.stroke();
    // last tick label is shifted left so it stays inside the view, as in the original
    ctx.fillStyle = '#333'; ctx.font = '9.5px ' + FONT; ctx.textAlign = 'left'; ctx.textBaseline = 'top';
    ctx.fillText(rulerLabels[lastIdx], x.getPixelForValue(rulerTicks[lastIdx]) - 15, a.bottom + 11);
    ctx.restore();
  }}]
});

const botDs = [];
botSegments.forEach(s => botDs.push(lineDs(s, 'rgba(150,110,80,0.5)', 1, 10, 'origin', 'rgba(205,175,145,0.85)')));
botDs.push(lineDs(botTrend, '#5a3e26', 1.2, 9));
botBars.forEach(s => botDs.push(lineDs(s, '#6e3c10', 2.5, 8)));
botDs.push(ptDs(botGray, '#9a9a9a', 1, 6));
botDs.push(ptDs(botGreen, '#2e8b3a', 1, 5));
botDs.push(ptDs(botBlack2, '#222', 1.1, 4));
botDs.push(ptDs(botRed, '#e02020', 1.1, 3));
botDs.push(ptDs(botBlack3, '#1a1a1a', 1.2, 2));
botDs.push(ptDs(botBlack, '#111', 1.2, 1));

new Chart(document.getElementById('cBot'), {
  type: 'line',
  data: {datasets: botDs},
  options: baseOpts(0, 79.71, -3.6, 3.8, {left: 31, right: 0, top: 10, bottom: 54}, {grid: botGridLevels, ideogram: true}),
  plugins: [panelDecor]
});
</script>
</body></html>
